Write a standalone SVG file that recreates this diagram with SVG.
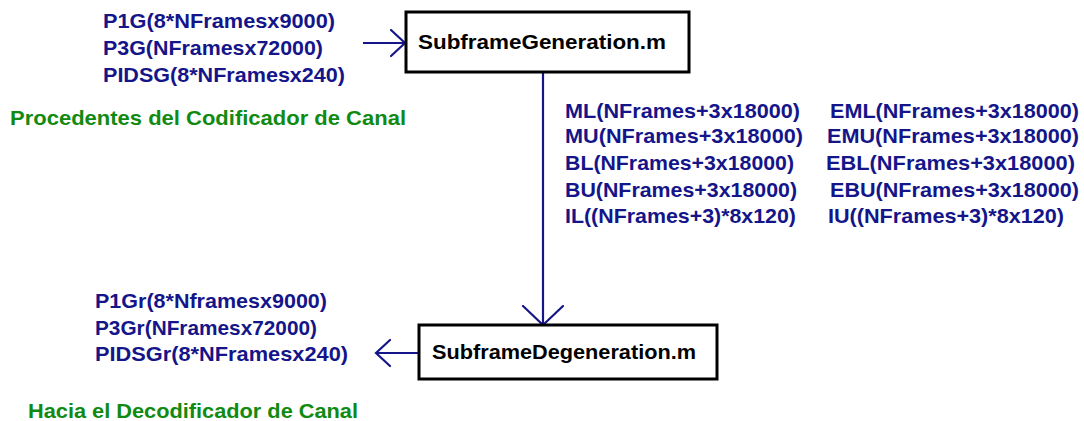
<svg xmlns="http://www.w3.org/2000/svg" width="1084" height="421" viewBox="0 0 1084 421">
  <defs>
    <style>
      .lbl { font-family: "Liberation Sans", Arial, sans-serif; font-weight: bold; font-size: 21px; fill: #15158a; }
      .note { font-family: "Liberation Sans", Arial, sans-serif; font-weight: bold; font-size: 21px; fill: #118a11; }
      .box { fill: #ffffff; stroke: #000000; stroke-width: 3; }
      .boxtxt { font-family: "Liberation Sans", Arial, sans-serif; font-weight: bold; font-size: 21px; fill: #000000; }
      .wire { fill: none; stroke: #15158a; stroke-width: 2.2; }
    </style>
    <marker id="open-s" markerUnits="userSpaceOnUse" markerWidth="20" markerHeight="30" refX="15" refY="14" orient="auto">
      <path d="M1,1 L15,14 L1,27" fill="none" stroke="#15158a" stroke-width="2.2" stroke-linecap="round"/>
    </marker>
    <marker id="open-l" markerUnits="userSpaceOnUse" markerWidth="24" markerHeight="44" refX="20" refY="21" orient="auto">
      <path d="M1,1 L20,21 L1,41" fill="none" stroke="#15158a" stroke-width="2.2" stroke-linecap="round"/>
    </marker>
  </defs>

  <rect width="1084" height="421" fill="#ffffff"/>

  <!-- connectors -->
  <g id="connectors">
    <line class="wire" x1="363" y1="43" x2="405" y2="43" marker-end="url(#open-s)"/>
    <line class="wire" x1="543" y1="72" x2="543" y2="325" marker-end="url(#open-l)"/>
    <line class="wire" x1="419" y1="353" x2="376" y2="353" marker-end="url(#open-s)"/>
  </g>

  <!-- generator block -->
  <g id="subframe-generation">
    <rect class="box" x="406" y="12" width="283" height="60"/>
    <text class="boxtxt" x="418" y="49" textLength="248" lengthAdjust="spacingAndGlyphs">SubframeGeneration.m</text>
  </g>

  <!-- degenerator block -->
  <g id="subframe-degeneration">
    <rect class="box" x="419" y="325" width="298" height="54"/>
    <text class="boxtxt" x="432" y="359" textLength="264" lengthAdjust="spacingAndGlyphs">SubframeDegeneration.m</text>
  </g>

  <!-- channel encoder inputs -->
  <g id="inputs">
    <text class="lbl" x="103" y="28" textLength="232" lengthAdjust="spacingAndGlyphs">P1G(8*NFramesx9000)</text>
    <text class="lbl" x="103" y="55" textLength="220" lengthAdjust="spacingAndGlyphs">P3G(NFramesx72000)</text>
    <text class="lbl" x="103" y="82" textLength="242" lengthAdjust="spacingAndGlyphs">PIDSG(8*NFramesx240)</text>
    <text class="note" x="10" y="125" textLength="396" lengthAdjust="spacingAndGlyphs">Procedentes del Codificador de Canal</text>
  </g>

  <!-- intermediate signals -->
  <g id="signals">
    <text class="lbl" x="565" y="118" textLength="235" lengthAdjust="spacingAndGlyphs">ML(NFrames+3x18000)</text>
    <text class="lbl" x="565" y="143" textLength="238" lengthAdjust="spacingAndGlyphs">MU(NFrames+3x18000)</text>
    <text class="lbl" x="565" y="170" textLength="229" lengthAdjust="spacingAndGlyphs">BL(NFrames+3x18000)</text>
    <text class="lbl" x="565" y="197" textLength="232" lengthAdjust="spacingAndGlyphs">BU(NFrames+3x18000)</text>
    <text class="lbl" x="565" y="223" textLength="231" lengthAdjust="spacingAndGlyphs">IL((NFrames+3)*8x120)</text>

    <text class="lbl" x="830" y="118" textLength="249" lengthAdjust="spacingAndGlyphs">EML(NFrames+3x18000)</text>
    <text class="lbl" x="827" y="143" textLength="252" lengthAdjust="spacingAndGlyphs">EMU(NFrames+3x18000)</text>
    <text class="lbl" x="826" y="170" textLength="249" lengthAdjust="spacingAndGlyphs">EBL(NFrames+3x18000)</text>
    <text class="lbl" x="830" y="197" textLength="249" lengthAdjust="spacingAndGlyphs">EBU(NFrames+3x18000)</text>
    <text class="lbl" x="828" y="223" textLength="236" lengthAdjust="spacingAndGlyphs">IU((NFrames+3)*8x120)</text>
  </g>

  <!-- channel decoder outputs -->
  <g id="outputs">
    <text class="lbl" x="95" y="308" textLength="232" lengthAdjust="spacingAndGlyphs">P1Gr(8*Nframesx9000)</text>
    <text class="lbl" x="95" y="335" textLength="222" lengthAdjust="spacingAndGlyphs">P3Gr(NFramesx72000)</text>
    <text class="lbl" x="95" y="361" textLength="253" lengthAdjust="spacingAndGlyphs">PIDSGr(8*NFramesx240)</text>
    <text class="note" x="28" y="418" textLength="330" lengthAdjust="spacingAndGlyphs">Hacia el Decodificador de Canal</text>
  </g>
</svg>
